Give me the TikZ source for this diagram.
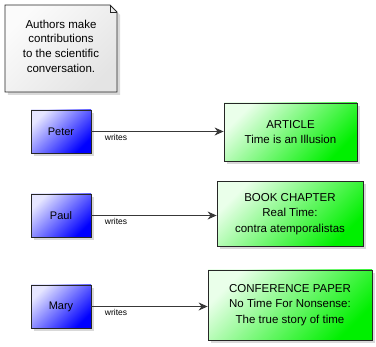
\documentclass[tikz,border=0pt]{standalone}
\usepackage{fontspec}
\setmainfont{Liberation Sans}
\usetikzlibrary{shadows,arrows.meta}
\definecolor{bluelight}{HTML}{E6E6FF}
\definecolor{bluedark}{HTML}{0000FF}
\definecolor{greenlight}{HTML}{EAFFEA}
\definecolor{greendark}{HTML}{00F000}
\definecolor{notelight}{HTML}{FBFBFB}
\definecolor{notedark}{HTML}{E4E4E4}
\definecolor{lineclr}{HTML}{383838}
\tikzset{
  boxshadow/.style={drop shadow={shadow xshift=3pt,shadow yshift=-3pt,fill=black,opacity=0.15}},
  person/.style={draw=black!85, line width=0.8pt, top color=bluelight, bottom color=bluedark,
    shading angle=45, minimum width=60pt, minimum height=43pt, inner sep=0pt,
    font=\fontsize{11}{13}\selectfont, boxshadow},
  work/.style={draw=black!85, line width=0.8pt, top color=greenlight, bottom color=greendark,
    shading angle=45, inner sep=0pt, align=center,
    font=\fontsize{11.5}{15.5}\selectfont, boxshadow},
  conn/.style={draw=lineclr, line width=1.1pt, -{Stealth[length=9pt,width=8pt]}},
  connlabel/.style={anchor=north west, inner sep=0pt, font=\fontsize{8.5}{10}\selectfont},
  notebody/.style={draw=black!85, line width=0.8pt, top color=notelight, bottom color=notedark,
    shading angle=45, boxshadow},
  notetext/.style={align=center, inner sep=0pt, font=\fontsize{11.5}{14.7}\selectfont}
}
\begin{document}
\begin{tikzpicture}[x=1pt,y=-1pt]
\useasboundingbox (0,0) rectangle (376,347);
% note
\path[notebody] (5,5) -- (110,5) -- (117,12) -- (117,92) -- (5,92) -- cycle;
\draw[black!85, line width=0.8pt] (110,5) -- (110,12) -- (117,12);
\node[notetext] (note) at (61,46) {Authors make\\contributions\\to the scientific\\conversation.};
% persons
\node[person] (peter) at (61,131.5) {Peter};
\node[person] (paul) at (61,215.5) {Paul};
\node[person] (mary) at (61,306.5) {Mary};
% works
\node[work, minimum width=133pt, minimum height=58pt] (article) at (290.5,132) {ARTICLE\\Time is an Illusion};
\node[work, minimum width=146pt, minimum height=65pt] (book) at (290,214) {BOOK CHAPTER\\Real Time:\\contra atemporalistas};
\node[work, minimum width=164pt, minimum height=70pt] (conf) at (290,305) {CONFERENCE PAPER\\No Time For Nonsense:\\The true story of time};
% connectors
\draw[conn] (peter.east) -- (peter.east -| article.west) node[connlabel, pos=0, xshift=13pt, yshift=-2pt] {writes};
\draw[conn] (paul.east) -- (paul.east -| book.west) node[connlabel, pos=0, xshift=13pt, yshift=-2pt] {writes};
\draw[conn] (mary.east) -- (mary.east -| conf.west) node[connlabel, pos=0, xshift=13pt, yshift=-2pt] {writes};
\end{tikzpicture}
\end{document}
